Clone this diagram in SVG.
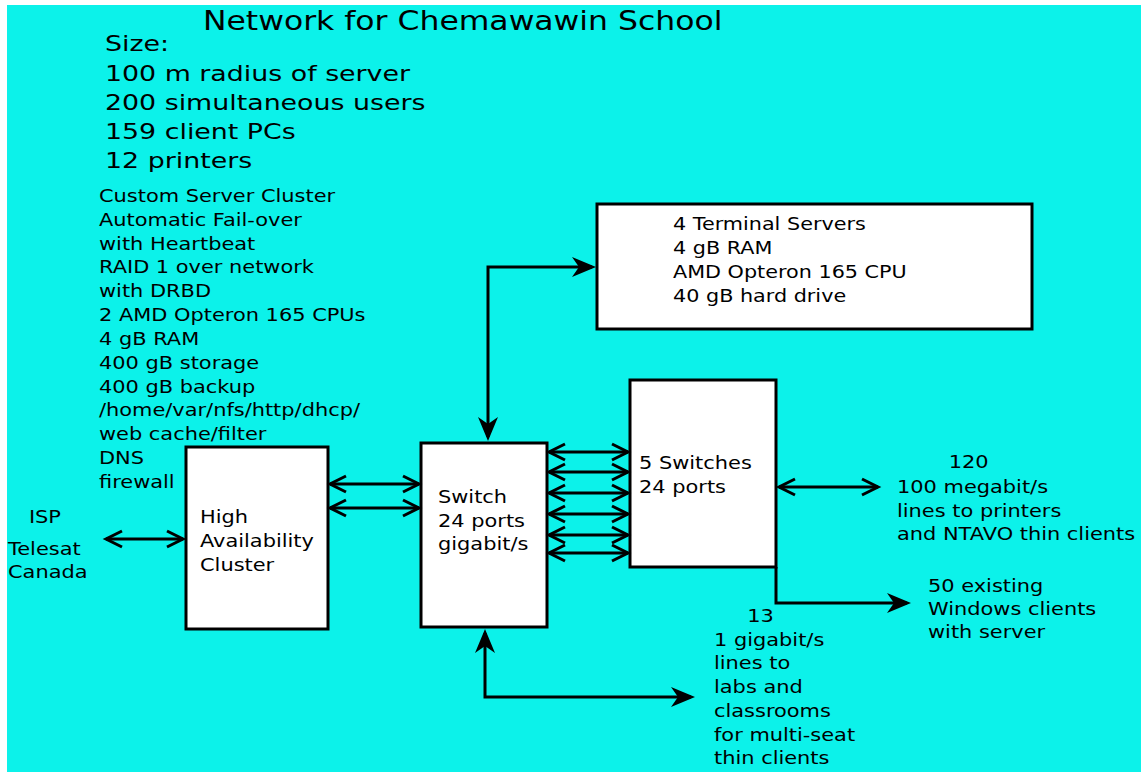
<svg xmlns="http://www.w3.org/2000/svg" width="1141" height="772" viewBox="0 0 1141 772">
<style>
.box{fill:#ffffff;stroke:#000000;stroke-width:3}
.t{font-family:"DejaVu Sans",sans-serif;font-size:17px;fill:#000000}
.big{font-family:"DejaVu Sans",sans-serif;font-size:22px;fill:#000000}
.title{font-family:"DejaVu Sans",sans-serif;font-size:26px;fill:#000000}
.c{fill:none;stroke:#000000;stroke-width:3}
.dbl{marker-start:url(#chev);marker-end:url(#chev)}
</style>
<defs>
<marker id="chev" markerUnits="userSpaceOnUse" viewBox="-20 -12 24 24" markerWidth="24" markerHeight="24" refX="0" refY="0" orient="auto-start-reverse">
<path d="M-16,-8 L0,0 L-16,8" fill="none" stroke="#000" stroke-width="3"/>
</marker>
<marker id="tri" markerUnits="userSpaceOnUse" viewBox="-26 -12 30 24" markerWidth="30" markerHeight="24" refX="-4" refY="0" orient="auto-start-reverse">
<path d="M0,0 L-24,-10 L-17,0 L-24,10 Z" fill="#000"/>
</marker>
</defs>
<rect x="0" y="0" width="1141" height="772" fill="#ffffff"/>
<rect x="7" y="5" width="1134" height="767" fill="#0cf2ea"/>

<g id="title" transform="translate(203,0) scale(1.21,1)">
<text class="title" x="0" y="30">Network for Chemawawin School</text>
</g>

<g id="size-info" transform="translate(105,0) scale(1.22,1)">
<text class="big" x="0" y="51">Size:</text>
<text class="big" x="0" y="81">100 m radius of server</text>
<text class="big" x="0" y="110">200 simultaneous users</text>
<text class="big" x="0" y="139">159 client PCs</text>
<text class="big" x="0" y="168">12 printers</text>
</g>

<g id="cluster-specs" transform="translate(99,0) scale(1.23,1)">
<text class="t" x="0" y="202">Custom Server Cluster</text>
<text class="t" x="0" y="225.8">Automatic Fail-over</text>
<text class="t" x="0" y="249.7">with Heartbeat</text>
<text class="t" x="0" y="273.5">RAID 1 over network</text>
<text class="t" x="0" y="297.3">with DRBD</text>
<text class="t" x="0" y="321.2">2 AMD Opteron 165 CPUs</text>
<text class="t" x="0" y="345">4 gB RAM</text>
<text class="t" x="0" y="368.8">400 gB storage</text>
<text class="t" x="0" y="392.7">400 gB backup</text>
<text class="t" x="0" y="416.5">/home/var/nfs/http/dhcp/</text>
<text class="t" x="0" y="440.3">web cache/filter</text>
<text class="t" x="0" y="464.2">DNS</text>
<text class="t" x="0" y="488">firewall</text>
</g>

<g id="isp" transform="translate(8,0) scale(1.23,1)">
<text class="t" x="17" y="523">ISP</text>
<text class="t" x="0" y="555">Telesat</text>
<text class="t" x="0" y="578">Canada</text>
</g>

<g id="ha-cluster">
<rect class="box" x="186" y="447" width="142" height="182"/>
<g transform="translate(200,0) scale(1.23,1)">
<text class="t" x="0" y="523">High</text>
<text class="t" x="0" y="547">Availability</text>
<text class="t" x="0" y="571">Cluster</text>
</g>
</g>

<g id="switch">
<rect class="box" x="421" y="443" width="126" height="184"/>
<g transform="translate(438,0) scale(1.23,1)">
<text class="t" x="0" y="503">Switch</text>
<text class="t" x="0" y="527">24 ports</text>
<text class="t" x="0" y="550">gigabit/s</text>
</g>
</g>

<g id="switches5">
<rect class="box" x="630" y="380" width="146" height="187"/>
<g transform="translate(639,0) scale(1.23,1)">
<text class="t" x="0" y="469">5 Switches</text>
<text class="t" x="0" y="493">24 ports</text>
</g>
</g>

<g id="terminal-servers">
<rect class="box" x="597" y="204" width="435" height="125"/>
<g transform="translate(673,0) scale(1.22,1)">
<text class="t" x="0" y="230">4 Terminal Servers</text>
<text class="t" x="0" y="254">4 gB RAM</text>
<text class="t" x="0" y="278">AMD Opteron 165 CPU</text>
<text class="t" x="0" y="302">40 gB hard drive</text>
</g>
</g>

<g id="label-120" transform="translate(897,0) scale(1.23,1)">
<text class="t" x="42" y="468">120</text>
<text class="t" x="0" y="493">100 megabit/s</text>
<text class="t" x="0" y="517">lines to printers</text>
<text class="t" x="0" y="540">and NTAVO thin clients</text>
</g>

<g id="label-windows" transform="translate(928,0) scale(1.23,1)">
<text class="t" x="0" y="592">50 existing</text>
<text class="t" x="0" y="615">Windows clients</text>
<text class="t" x="0" y="638">with server</text>
</g>

<g id="label-13" transform="translate(714,0) scale(1.23,1)">
<text class="t" x="27" y="622">13</text>
<text class="t" x="0" y="646">1 gigabit/s</text>
<text class="t" x="0" y="669">lines to</text>
<text class="t" x="0" y="693">labs and</text>
<text class="t" x="0" y="717">classrooms</text>
<text class="t" x="0" y="741">for multi-seat</text>
<text class="t" x="0" y="764">thin clients</text>
</g>

<g id="connectors">
<line class="c dbl" x1="106" y1="539" x2="183" y2="539"/>
<line class="c dbl" x1="330" y1="484" x2="419" y2="484"/>
<line class="c dbl" x1="330" y1="508" x2="419" y2="508"/>
<line class="c dbl" x1="549" y1="452" x2="628" y2="452"/>
<line class="c dbl" x1="549" y1="472" x2="628" y2="472"/>
<line class="c dbl" x1="549" y1="493" x2="628" y2="493"/>
<line class="c dbl" x1="549" y1="514" x2="628" y2="514"/>
<line class="c dbl" x1="549" y1="535" x2="628" y2="535"/>
<line class="c dbl" x1="549" y1="553" x2="628" y2="553"/>
<line class="c dbl" x1="779" y1="487" x2="878" y2="487"/>
<path class="c" d="M776,567 V603 H907" marker-end="url(#tri)"/>
<path class="c" d="M488,437 V267 H592" marker-start="url(#tri)" marker-end="url(#tri)"/>
<path class="c" d="M485,633 V697 H691" marker-start="url(#tri)" marker-end="url(#tri)"/>
</g>
</svg>
